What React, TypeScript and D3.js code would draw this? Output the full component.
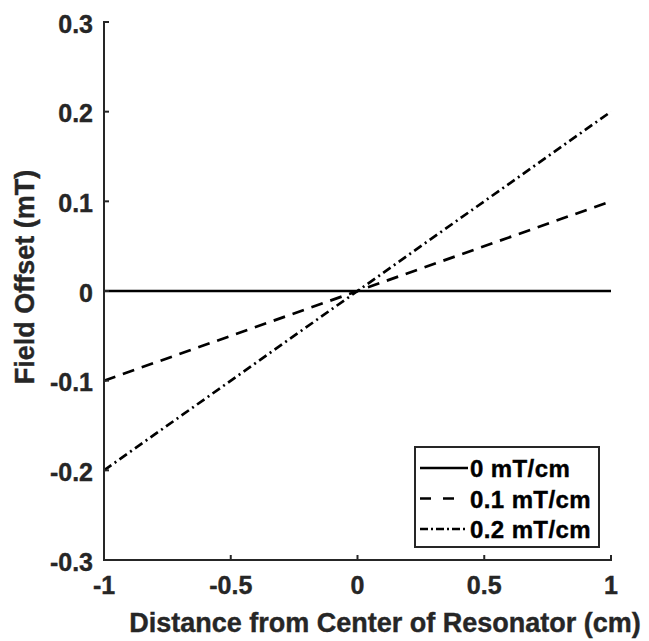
import React from "react";
import * as d3 from "d3";

const xTicks = [-1, -0.5, 0, 0.5, 1];
const yTicks = [-0.3, -0.2, -0.1, 0, 0.1, 0.2, 0.3];
const xTickLabels = ["-1", "-0.5", "0", "0.5", "1"];
const yTickLabels = ["-0.3", "-0.2", "-0.1", "0", "0.1", "0.2", "0.3"];
const seriesNames = ["0 mT/cm", "0.1 mT/cm", "0.2 mT/cm"];
const xs = [-1, 1];
const series0 = [0, 0];
const series1 = [-0.1, 0.1];
const series2 = [-0.2, 0.2];
const allSeries = [series0, series1, series2];
const dashes = ["none", "12,8", "9,4,2,4"];
const legendDashes = ["none", "11,12", "8,3,2,3"];
const legendEnds = [468, 454, 468];

export default function App() {
  const W = 649, H = 641;
  const x = d3.scaleLinear().domain([-1, 1]).range([104, 611]);
  const y = d3.scaleLinear().domain([-0.3, 0.3]).range([560, 22]);
  const line = d3.line<[number, number]>().x(d => x(d[0])).y(d => y(d[1]));
  const ax = "#262626";
  const font = "'Liberation Sans', Arial, sans-serif";
  return (
    <svg width={W} height={H} style={{ position: "absolute", left: 0, top: 0, background: "#fff" }} fontFamily={font}>
      <rect width={W} height={H} fill="#fff" />
      {allSeries.map((s, i) => (
        <path key={i} d={line(xs.map((v, j) => [v, s[j]]) as [number, number][]) || ""}
          stroke="#000" strokeWidth={2.7} fill="none" strokeDasharray={dashes[i]} />
      ))}
      <line x1={104} x2={104} y1={y(0.3) - 1} y2={y(-0.3) + 1} stroke={ax} strokeWidth={2} />
      <line x1={103} x2={612} y1={560} y2={560} stroke={ax} strokeWidth={2} />
      {yTicks.map((t, i) => (
        <g key={"y" + i}>
          <line x1={104} x2={109} y1={y(t)} y2={y(t)} stroke={ax} strokeWidth={2} />
          <text x={93} y={y(t) + 2} dy="0.35em" textAnchor="end" fontSize={25} stroke={ax} strokeWidth={0.4} fontWeight="bold" fill={ax}>{yTickLabels[i]}</text>
        </g>
      ))}
      {xTicks.map((t, i) => (
        <g key={"x" + i}>
          <line x1={x(t)} x2={x(t)} y1={560} y2={555} stroke={ax} strokeWidth={2} />
          <text x={x(t)} y={585} dy="0.35em" textAnchor="middle" fontSize={25} stroke={ax} strokeWidth={0.4} fontWeight="bold" fill={ax}>{xTickLabels[i]}</text>
        </g>
      ))}
      <text x={385} y={623} dy="0.35em" textAnchor="middle" fontSize={27} stroke={ax} strokeWidth={0.4} fontWeight="bold" fill={ax}>Distance from Center of Resonator (cm)</text>
      <text transform={`translate(25,277) rotate(-90)`} dy="0.35em" textAnchor="middle" fontSize={27} stroke={ax} strokeWidth={0.4} fontWeight="bold" fill={ax}>Field Offset (mT)</text>
      <rect x={415} y={447} width={184} height={100} fill="#fff" stroke={ax} strokeWidth={2} />
      {seriesNames.map((n, i) => {
        const cy = 468 + i * 30.5;
        return (
          <g key={"l" + i}>
            <line x1={420} x2={legendEnds[i]} y1={cy} y2={cy} stroke="#000" strokeWidth={2.7} strokeDasharray={legendDashes[i]} />
            <text x={470} y={cy + 1} dy="0.35em" fontSize={24} letterSpacing={0.4} stroke="#000" strokeWidth={0.4} fontWeight="bold" fill="#000">{n}</text>
          </g>
        );
      })}
    </svg>
  );
}
